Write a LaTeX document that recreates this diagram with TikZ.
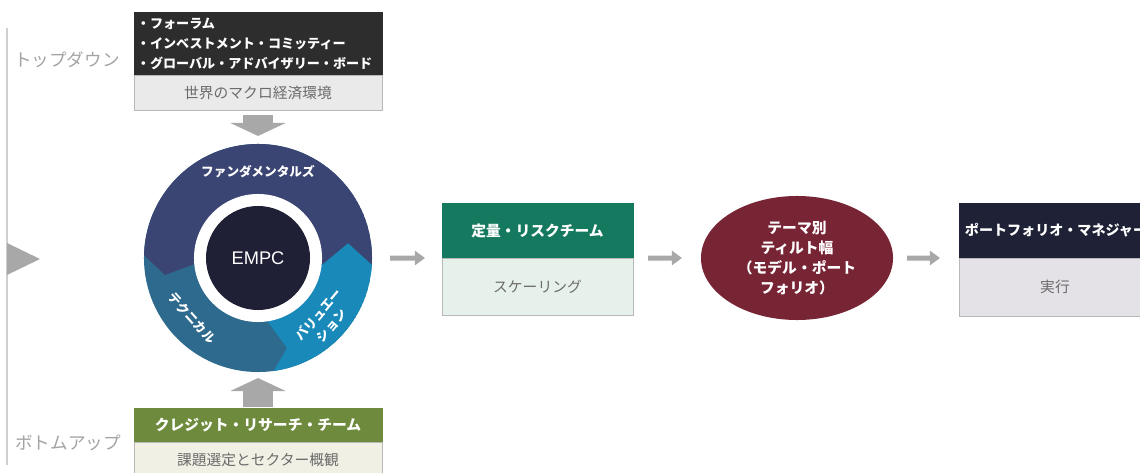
\documentclass[tikz,border=0pt]{standalone}
\usepackage{fontspec}
\setmainfont{Noto Sans CJK JP}
\newfontfamily\empcfont{Liberation Sans}
\usetikzlibrary{positioning,arrows.meta,shapes.geometric}

\definecolor{topdark}{HTML}{2D2D2D}
\definecolor{toplight}{HTML}{EAEAEA}
\definecolor{boxline}{HTML}{B8B8B8}
\definecolor{creditgreen}{HTML}{6E8B3D}
\definecolor{creditlight}{HTML}{F1F0E4}
\definecolor{quantteal}{HTML}{14795E}
\definecolor{quantlight}{HTML}{E7F1EC}
\definecolor{tiltred}{HTML}{772435}
\definecolor{pmnavy}{HTML}{1F2236}
\definecolor{pmlight}{HTML}{E4E1E7}
\definecolor{fundnavy}{HTML}{3B4573}
\definecolor{techteal}{HTML}{2E6A8E}
\definecolor{valblue}{HTML}{1889B8}
\definecolor{coredark}{HTML}{1F2036}
\definecolor{arrowgray}{HTML}{A8A8A8}
\definecolor{sidegray}{HTML}{A3A3A3}
\definecolor{bodytext}{HTML}{6B6B6B}
\definecolor{railgray}{HTML}{CFCFCF}

\tikzset{
	sidelabel/.style={text=sidegray, font=\fontsize{12.5}{15}\selectfont},
	boxhead/.style={fill=#1, draw=#1, text=white, inner sep=0pt, outer sep=0pt,
		font=\bfseries\fontsize{10.5}{13}\selectfont},
	boxbody/.style={fill=#1, draw=boxline, text=bodytext, inner sep=0pt, outer sep=0pt,
		font=\fontsize{10.5}{13}\selectfont},
	wheeltext/.style={text=white, font=\bfseries\fontsize{9}{12}\selectfont, align=center},
	smallarrow/.style={draw=arrowgray, line width=0.125cm, -{Triangle[width=0.35cm,length=0.25cm]}},
	bigarrow/.style={draw=arrowgray, line width=0.75cm, -{Triangle[width=1.375cm,length=0.325cm]}}
}

\begin{document}
\begin{tikzpicture}[x=0.025cm, y=-0.025cm]
	\useasboundingbox (0,0) rectangle (1140,473);
	
	% Side rail
	\draw[railgray, line width=0.05cm] (7,28) -- (7,465);
	\fill[arrowgray] (7,243) -- (40,259) -- (7,275) -- cycle;
	\node[sidelabel] (topdown) at (67,60) {トップダウン};
	\node[sidelabel] (bottomup) at (68,443) {ボトムアップ};
	
	% Top-down box
	\node[boxhead=topdark, minimum width=6.2cm, minimum height=1.575cm, text width=6.05cm,
		align=left, font=\bfseries\fontsize{9.3}{14.2}\selectfont] (forum) at (258,43.5)
		{・フォーラム\\・インベストメント・コミッティー\\・グローバル・アドバイザリー・ボード};
	\node[boxbody=toplight, minimum width=6.2cm, minimum height=0.875cm, below=0pt of forum] (macro)
		{世界のマクロ経済環境};
	
	% Wheel
	\node[circle, minimum size=5.7cm, inner sep=0pt, outer sep=0pt] (wheel) at (258,258) {};
	\begin{scope}
		\clip (wheel.center) circle [radius=2.85cm];
		\fill[techteal] (wheel.center) circle [radius=2.85cm];
		\fill[valblue] (258,258) -- (268,322) -- (287,348) -- (272,374) -- (274,400)
			-- (400,400) -- (400,290) -- (348,243) -- (318,268) -- cycle;
		\fill[fundnavy] (130,100) -- (130,242) -- (165,275) -- (200,262) -- (258,258)
			-- (318,268) -- (348,243) -- (400,290) -- (400,100) -- cycle;
	\end{scope}
	\fill[white] (wheel.center) circle [radius=1.6cm];
	\node[circle, fill=coredark, minimum size=2.6cm, inner sep=0pt, text=white,
		font=\empcfont\fontsize{13}{15}\selectfont] (empc) at (wheel.center) {EMPC};
	\node[wheeltext] (fund) at (258,172) {ファンダメンタルズ};
	\node[wheeltext, rotate=-48] (tech) at (192,318) {テクニカル};
	\node[wheeltext, rotate=50] (valuation) at (325,320) {バリュエー\\ション};
	
	% Bottom-up box
	\node[boxhead=creditgreen, minimum width=6.2cm, minimum height=0.85cm] (credit) at (258,425)
		{クレジット・リサーチ・チーム};
	\node[boxbody=creditlight, minimum width=6.2cm, minimum height=0.9cm, below=0pt of credit] (sector)
		{課題選定とセクター概観};
	
	% Quant box
	\node[boxhead=quantteal, minimum width=4.775cm, minimum height=1.375cm] (quant) at (537.5,230.5)
		{定量・リスクチーム};
	\node[boxbody=quantlight, minimum width=4.775cm, minimum height=1.425cm, below=0pt of quant] (scaling)
		{スケーリング};
	
	% Model portfolio
	\node[ellipse, fill=tiltred, minimum width=4.8cm, minimum height=3.1cm, inner sep=0pt,
		outer sep=0pt, text=white, align=center, font=\bfseries\fontsize{10.5}{14.2}\selectfont]
		(tilt) at (797,258) {テーマ別\\ティルト幅\\（モデル・ポート\\フォリオ）};
	
	% Portfolio manager box
	\node[boxhead=pmnavy, minimum width=4.8cm, minimum height=1.375cm, text width=4.5cm,
		inner xsep=0.15cm, align=left, font=\bfseries\fontsize{10}{13}\selectfont] (pm) at (1055,230.5)
		{ポートフォリオ・マネジャー};
	\node[boxbody=pmlight, minimum width=4.8cm, minimum height=1.45cm, below=0pt of pm] (execute)
		{実行};
	
	% Connections
	\draw[bigarrow, shorten <=0.125cm, shorten >=0.2cm] (macro.south) -- (wheel.north);
	\draw[bigarrow, shorten <=0.025cm, shorten >=0.15cm] (credit.north) -- (wheel.south);
	\draw[smallarrow, shorten <=0.45cm, shorten >=0.425cm] (wheel.east) -- (quant.south west);
	\draw[smallarrow, shorten <=0.375cm, shorten >=0.475cm] (quant.south east) -- (tilt.west);
	\draw[smallarrow, shorten <=0.35cm, shorten >=0.475cm] (tilt.east) -- (pm.south west);
\end{tikzpicture}
\end{document}
